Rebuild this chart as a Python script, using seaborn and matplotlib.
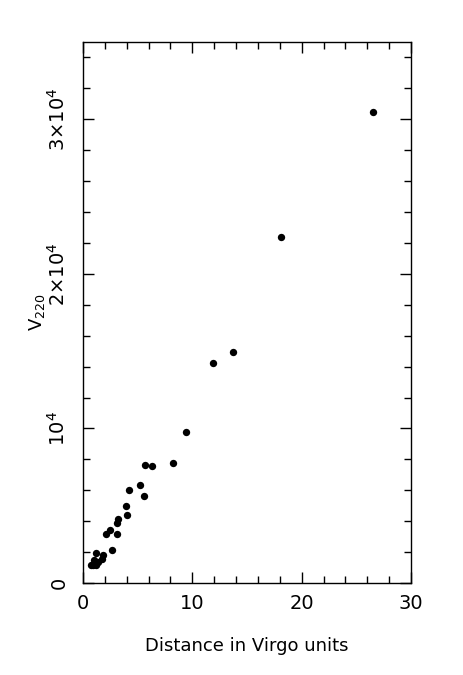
import numpy as np
import pandas as pd
import matplotlib
matplotlib.use("Agg")
import matplotlib.pyplot as plt
import seaborn as sns
from matplotlib.ticker import MultipleLocator, FixedLocator

# distance (Virgo units) and V_220
distance = [26.5, 18.1, 13.7, 11.9, 9.45, 8.2, 5.7, 6.35,
            5.18, 4.21, 5.58, 3.96, 4.05, 3.17, 3.14, 2.5, 2.13, 3.14,
            2.62, 1.22, 1.83, 1.74, 0.98, 1.37, 0.91, 1.22, 0.76, 1.1]
v220 = [30450, 22390, 14920, 14210, 9760, 7790, 7610, 7550,
        6340, 6000, 5630, 4950, 4410, 4130, 3850, 3420, 3200, 3200,
        2130, 1910, 1810, 1530, 1480, 1380, 1160, 1160, 1160, 1300]

y_ticks = [0, 10000, 20000, 30000]
y_ticklabels = ["0", "10$^4$", "2\u00d710$^4$", "3\u00d710$^4$"]
x_ticks = [0, 10, 20, 30]

df = pd.DataFrame({"distance": distance, "v220": v220})

sns.set_style("white")
plt.rcParams["font.family"] = ["DejaVu Sans"]
plt.rcParams["mathtext.fontset"] = "dejavusans"
plt.rcParams["text.color"] = "black"
plt.rcParams["axes.labelcolor"] = "black"
plt.rcParams["xtick.color"] = "black"
plt.rcParams["ytick.color"] = "black"

fig = plt.figure(figsize=(4.64, 6.75), dpi=100)
ax = fig.add_axes([0.1789, 0.1363, 0.7069, 0.8015])

sns.scatterplot(data=df, x="distance", y="v220", ax=ax, color="black",
                s=28, marker="o", edgecolor="black", linewidth=0)

ax.set_xlim(0, 30)
ax.set_ylim(0, 35000)
ax.xaxis.set_major_locator(FixedLocator(x_ticks))
ax.xaxis.set_minor_locator(MultipleLocator(2))
ax.yaxis.set_major_locator(FixedLocator(y_ticks))
ax.yaxis.set_minor_locator(MultipleLocator(2000))
ax.set_yticklabels(y_ticklabels)

for sp in ax.spines.values():
    sp.set_visible(True)
    sp.set_linewidth(1.0)
    sp.set_color("black")

ax.tick_params(which="both", direction="in", top=True, right=True,
               bottom=True, left=True, color="black", width=1.0)
ax.tick_params(which="major", length=8)
ax.tick_params(which="minor", length=5)
ax.tick_params(axis="x", which="major", labelsize=14, pad=8, labelcolor="black")
ax.tick_params(axis="y", which="major", labelsize=14, pad=10, labelcolor="black")
for lab in ax.get_yticklabels():
    lab.set_rotation(90)
    lab.set_va("center")
    lab.set_ha("right")

ax.set_xlabel("Distance in Virgo units", fontsize=13, labelpad=17, color="black")
ax.set_ylabel("V$_{220}$", fontsize=13, labelpad=0, color="black")
ax.grid(False)

fig.savefig("out.png", dpi=100, facecolor="white")
